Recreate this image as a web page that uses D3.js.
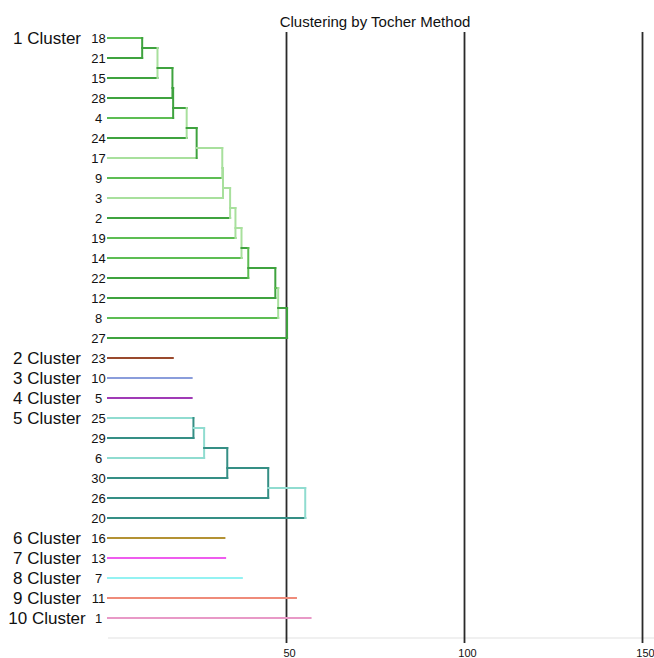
<!DOCTYPE html>
<html>
<head>
<meta charset="utf-8">
<script src="https://cdn.jsdelivr.net/npm/d3@7"></script>
<style>
    body { margin: 0; background: #fff; }
    text { font-family: "Liberation Sans", Arial, sans-serif; fill: #111; }
</style>
</head>
<body>
<div id="grafico-tocher"></div>
<script>
// ==================== DENDROGRAMA - MÉTODO DE TOCHER ====================

const titulo = "Clustering by Tocher Method";

const nomesClusters = ["1 Cluster", "2 Cluster", "3 Cluster", "4 Cluster", "5 Cluster",
    "6 Cluster", "7 Cluster", "8 Cluster", "9 Cluster", "10 Cluster"];

// membros de cada cluster, na ordem em que entram no agrupamento
const membrosClusters = [
    [18, 21, 15, 28, 4, 24, 17, 9, 3, 2, 19, 14, 22, 12, 8, 27],
    [23],
    [10],
    [5],
    [25, 29, 6, 30, 26, 20],
    [16],
    [13],
    [7],
    [11],
    [1]
];

// distância em que cada membro (a partir do segundo) se junta ao grupo;
// nos clusters de um só membro é o comprimento da linha
const alturasFusao = [
    [9.6, 13.9, 18.1, 18.3, 22.1, 24.9, 32.1, 32.3, 34.3, 35.8, 37.5, 39.4, 47.0, 47.8, 50.3],
    [18.2],
    [23.5],
    [23.5],
    [24.0, 27.0, 33.5, 45.0, 55.4],
    [32.7],
    [32.9],
    [37.6],
    [52.8],
    [56.9]
];

const ticksEixo = [50, 100, 150];

// paleta por cluster: [escuro, médio, claro]
const coresClusters = [
    ["#3fa33f", "#5dbd53", "#a8e09d"],
    ["#9a4a2d"],
    ["#8a9ddb"],
    ["#a03ab6"],
    ["#358f85", "#5ebcb0", "#90dcd0"],
    ["#b39234"],
    ["#ee5cee"],
    ["#93f2f2"],
    ["#ef8b7a"],
    ["#e899c7"]
];

// tom (índice na paleta) das linhas horizontais das folhas, dos nós e das verticais
const tonsFolhas = [
    [1, 0, 0, 0, 1, 0, 2, 1, 2, 0, 1, 1, 0, 0, 1, 0],
    [0], [0], [0],
    [2, 0, 2, 0, 0, 0],
    [0], [0], [0], [0], [0]
];
const tonsNos = [
    [0, 0, 0, 0, 0, 2, 2, 2, 2, 2, 0, 0, 1, 0],
    [], [], [],
    [2, 0, 0, 2],
    [], [], [], [], []
];
const tonsVerticais = [
    [0, 2, 0, 0, 2, 0, 2, 2, 2, 2, 2, 1, 0, 2, 0],
    [], [], [],
    [0, 2, 0, 0, 2],
    [], [], [], [], []
];

/**
 * Define dimensões e escalas.
 * @returns {Object} Objeto com dimensões e escalas.
 */
function definirDimensoesEEscalas() {
    const width = 654;
    const height = 658;
    const folhas = membrosClusters.flat();

    const x = d3.scaleLinear()
        .domain([0, 150])
        .range([108, 642]);

    const y = d3.scalePoint()
        .domain(folhas)
        .range([38, 38 + (folhas.length - 1) * 20]);

    const baseY = y.range()[1] + 20;

    return { width, height, folhas, x, y, baseY };
}

/**
 * Calcula os segmentos (verticais e horizontais) de cada cluster.
 * @param {Object} dim - Dimensões e escalas.
 * @returns {Array} Lista de segmentos {x1, x2, y1, y2, cor}.
 */
function calcularSegmentos(dim) {
    const { x, y } = dim;
    const segmentos = [];

    membrosClusters.forEach((membros, c) => {
        const paleta = coresClusters[c];
        const alturas = alturasFusao[c];

        if (membros.length === 1) {
            segmentos.push({
                x1: x(0), x2: x(alturas[0]),
                y1: y(membros[0]), y2: y(membros[0]),
                cor: paleta[tonsFolhas[c][0]]
            });
            return;
        }

        // posição vertical de cada nó: a meio entre a folha que entra e a anterior
        const linhaNo = k => (y(membros[k - 1]) + y(membros[k])) / 2;

        // folhas
        membros.forEach((m, k) => {
            const h = k === 0 ? alturas[0] : alturas[k - 1];
            segmentos.push({
                x1: x(0), x2: x(h), y1: y(m), y2: y(m),
                cor: paleta[tonsFolhas[c][k]]
            });
        });

        // nós internos: vertical na altura de fusão e ligação ao nó seguinte
        for (let k = 1; k < membros.length; k++) {
            const topo = k === 1 ? y(membros[0]) : linhaNo(k - 1);
            segmentos.push({
                x1: x(alturas[k - 1]), x2: x(alturas[k - 1]),
                y1: topo, y2: y(membros[k]),
                cor: paleta[tonsVerticais[c][k - 1]]
            });
            if (k < membros.length - 1) {
                segmentos.push({
                    x1: x(alturas[k - 1]), x2: x(alturas[k]),
                    y1: linhaNo(k), y2: linhaNo(k),
                    cor: paleta[tonsNos[c][k - 1]]
                });
            }
        }
    });

    return segmentos;
}

/**
 * Desenha o gráfico completo.
 */
function desenharGrafico() {
    const dim = definirDimensoesEEscalas();
    const { width, height, x, y, baseY } = dim;

    const svg = d3.select("#grafico-tocher")
        .append("svg")
        .attr("width", width)
        .attr("height", height)
        .attr("viewBox", [0, 0, width, height]);

    // título
    svg.append("text")
        .attr("x", (x.range()[0] + x.range()[1]) / 2)
        .attr("y", 27)
        .attr("text-anchor", "middle")
        .style("font-size", "15px")
        .text(titulo);

    // linha de base
    svg.append("line")
        .attr("x1", x(0))
        .attr("x2", width)
        .attr("y1", baseY)
        .attr("y2", baseY)
        .attr("stroke", "#e2e2e2")
        .attr("stroke-width", 1.2);

    // eixo com linhas de referência verticais
    const eixo = svg.append("g")
        .attr("transform", `translate(0,${baseY + 5})`)
        .call(d3.axisBottom(x)
            .tickValues(ticksEixo)
            .tickSize(-(baseY + 5 - 32))
            .tickPadding(6));

    eixo.select(".domain").remove();
    eixo.selectAll(".tick line")
        .attr("stroke", "#2a2a2a")
        .attr("stroke-width", 1.8);
    eixo.selectAll(".tick text")
        .attr("dx", 3)
        .style("font-size", "11px")
        .style("font-family", "'Liberation Sans', Arial, sans-serif")
        .attr("fill", "#222");

    // segmentos do dendrograma
    svg.append("g")
        .attr("stroke-linecap", "square")
        .selectAll("line")
        .data(calcularSegmentos(dim))
        .join("line")
        .attr("x1", d => d.x1)
        .attr("x2", d => d.x2)
        .attr("y1", d => d.y1)
        .attr("y2", d => d.y2)
        .attr("stroke", d => d.cor)
        .attr("stroke-width", 2);

    // rótulos das folhas
    svg.append("g")
        .selectAll("text")
        .data(dim.folhas)
        .join("text")
        .attr("x", 98.5)
        .attr("y", d => y(d))
        .attr("dy", "0.36em")
        .attr("text-anchor", "middle")
        .style("font-size", "13px")
        .text(d => d);

    // nomes dos clusters
    svg.append("g")
        .selectAll("text")
        .data(nomesClusters)
        .join("text")
        .attr("x", 47)
        .attr("y", (d, i) => y(membrosClusters[i][0]))
        .attr("dy", "0.36em")
        .attr("text-anchor", "middle")
        .style("font-size", "17px")
        .text(d => d);
}

desenharGrafico();
</script>
</body>
</html>
